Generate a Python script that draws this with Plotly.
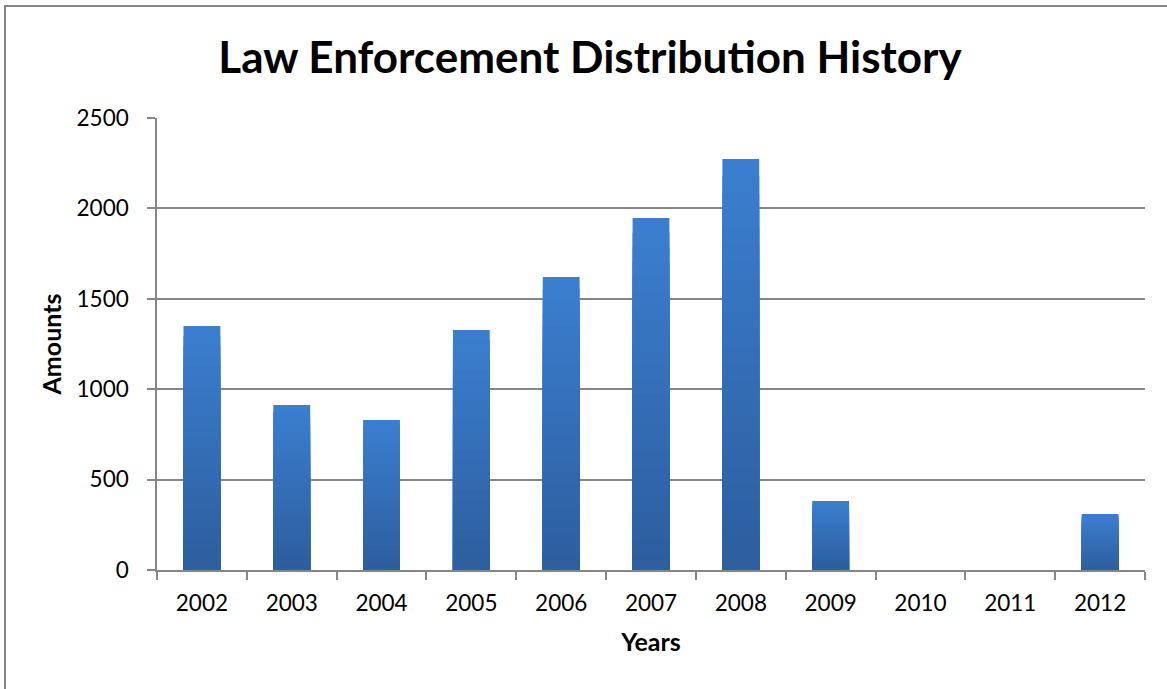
import plotly.graph_objects as go

years = ["2002", "2003", "2004", "2005", "2006", "2007", "2008", "2009", "2010", "2011", "2012"]
amounts = [1350, 913, 830, 1327, 1620, 1947, 2273, 382, 0, 0, 310]
y_ticks = [0, 500, 1000, 1500, 2000, 2500]

W, H = 1167, 689
ml, mr, mt, mb = 157, 22, 118, 119
pw, ph = W - ml - mr, H - mt - mb

top_rgb = (0x3b, 0x7e, 0xcf)
bot_rgb = (0x2d, 0x5e, 0x9e)
steps = 24

fig = go.Figure()
# vertical gradient built from stacked overlays of the same bars (fraction of each bar's height)
for i in range(steps):
    frac = 1 - i / steps
    t = i / (steps - 1)
    c = tuple(round(top_rgb[k] + (bot_rgb[k] - top_rgb[k]) * t) for k in range(3))
    fig.add_trace(go.Bar(
        x=years, y=[a * frac for a in amounts],
        marker=dict(color="rgb(%d,%d,%d)" % c, line=dict(width=0)),
        width=0.41, hoverinfo="skip" if i else None,
        customdata=amounts,
    ))

fig.update_layout(
    width=W, height=H,
    margin=dict(l=ml, r=mr, t=mt, b=mb),
    barmode="overlay",
    paper_bgcolor="white", plot_bgcolor="white",
    font=dict(family="Lato", size=22, color="black"),
    title=dict(text="<b>Law Enforcement Distribution History</b>",
               font=dict(family="Lato", size=44, color="black"),
               x=590 / W, xanchor="center", y=1 - 58 / H, yanchor="middle"),
    showlegend=False,
    xaxis=dict(
        type="category", tickson="boundaries", ticks="outside", ticklen=8,
        tickcolor="#868686", tickwidth=1.5,
        showline=True, linecolor="#868686", linewidth=1.5,
        showgrid=False, ticklabelstandoff=12,
        title=dict(text="<b>Years</b>", font=dict(size=25), standoff=19),
        tickfont=dict(size=22.5),
    ),
    yaxis=dict(
        range=[0, 2500], tickvals=y_ticks, ticks="outside", ticklen=8,
        tickcolor="#868686", tickwidth=1.5,
        showline=True, linecolor="#868686", linewidth=1.5,
        showgrid=True, gridcolor="#868686", gridwidth=1.5,
        zeroline=False, ticklabelstandoff=14,
        title=dict(text="<b>Amounts</b>", font=dict(size=25), standoff=8),
        tickfont=dict(size=22.5),
    ),
)

# outer chart border
fig.add_shape(type="rect", xref="paper", yref="paper",
              x0=(5 - ml) / pw, x1=(W + 5 - ml) / pw,
              y0=1 - (H + 5 - mt) / ph, y1=1 - (6 - mt) / ph,
              line=dict(color="#868686", width=2), fillcolor="rgba(0,0,0,0)",
              layer="below")

fig.write_html("out.html")
